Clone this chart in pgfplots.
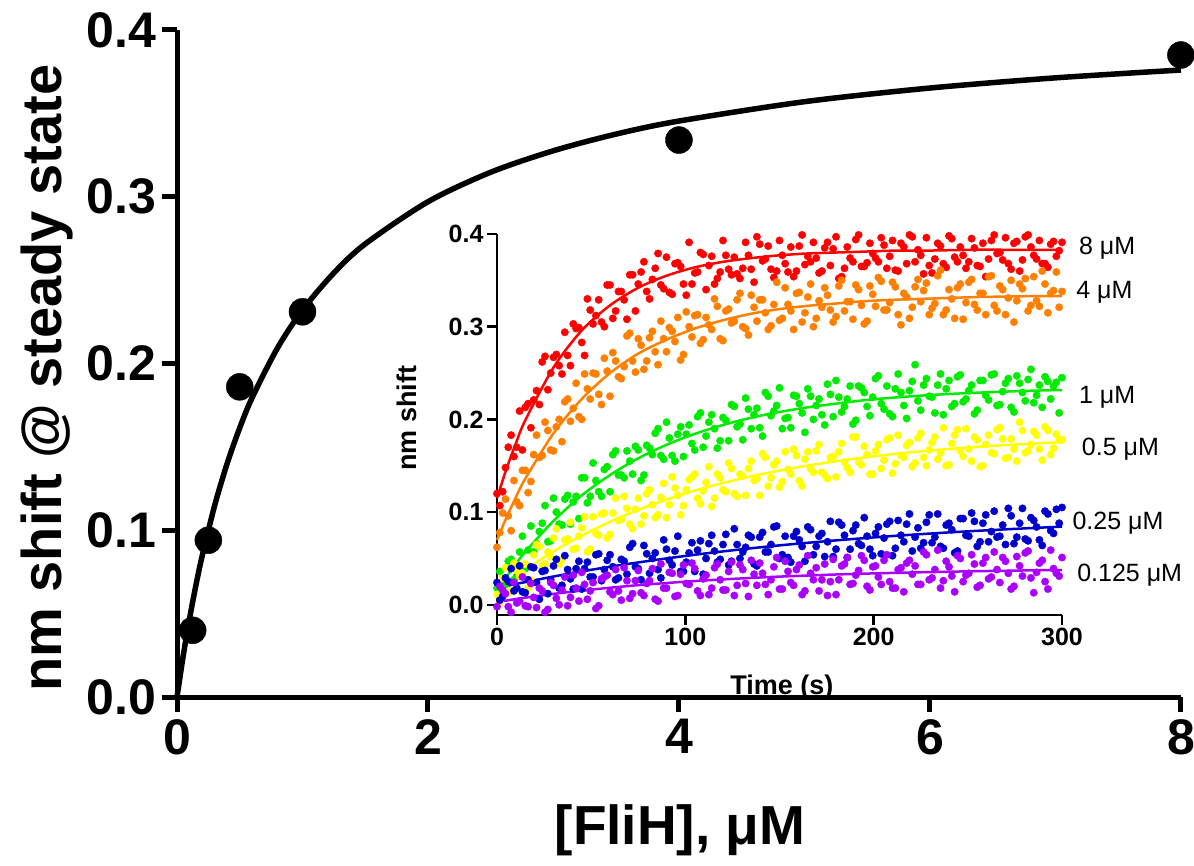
\documentclass[border=0pt]{standalone}
\usepackage{fontspec}
\setmainfont{Liberation Sans}
\usepackage{pgfplots}
\usepackage{pgfplotstable}
\pgfplotsset{compat=1.18}
\definecolor{cR}{RGB}{255,0,0}
\definecolor{cO}{RGB}{255,128,0}
\definecolor{cG}{RGB}{0,235,0}
\definecolor{cY}{RGB}{255,255,0}
\definecolor{cB}{RGB}{0,0,205}
\definecolor{cP}{RGB}{170,0,255}

\pgfplotstableread{
x y
0.125 0.040
0.25 0.094
0.5 0.186
1 0.231
4 0.334
8 0.385
}\mainpts

\pgfplotstableread{
x y
0 0
0.05 0.0249
0.1 0.0470
0.15 0.0667
0.2 0.0844
0.3 0.1148
0.4 0.1401
0.5 0.1614
0.6 0.1797
0.8 0.2092
1 0.2321
1.25 0.2543
1.5 0.2717
2 0.2970
2.5 0.3147
3 0.3276
3.5 0.3376
4 0.3454
5 0.3570
6 0.3652
7 0.3713
8 0.3760
}\mainfit

\pgfplotstableread{
t R O G Y B P
0 .115 .070 .015 .015 .018 .003
5 .1465 .094 .030 .023 .0203 .0046
10 .174 .116 .044 .031 .0225 .0062
15 .199 .136 .057 .038 .0245 .0077
30 .256 .185 .0905 .0576 .0305 .0118
45 .296 .222 .118 .0747 .036 .0153
60 .323 .250 .140 .0895 .0411 .0184
75 .342 .271 .158 .1024 .0457 .0212
90 .355 .286 .1726 .1135 .050 .0235
105 .364 .298 .1844 .1231 .054 .0256
120 .370 .307 .194 .1314 .0576 .0274
135 .374 .314 .2018 .1386 .061 .029
150 .377 .319 .208 .1448 .0641 .0304
165 .379 .3225 .213 .1502 .0669 .0316
180 .380 .325 .217 .1549 .0695 .0327
195 .381 .3275 .2207 .159 .0719 .0336
210 .382 .329 .2234 .1625 .0742 .0344
225 .382 .330 .2256 .1655 .0762 .0351
240 .3825 .331 .2274 .1681 .0781 .0357
255 .383 .332 .2288 .1704 .0798 .0363
270 .383 .3325 .230 .1723 .0814 .0367
285 .383 .333 .231 .174 .0829 .0372
300 .383 .333 .2317 .1755 .0843 .0375
}\fits

\pgfplotstableread{
t R O G Y B P
0 .120 .062 .018 .011 .024 -.002
3 .122 .099 .018 .029 .009 .016
6 .170 .096 .047 .013 .025 -.002
9 .160 .134 .027 .045 .015 .024
12 .209 .107 .057 .031 .042 .004
15 .213 .145 .039 .044 .013 -.001
18 .191 .133 .085 .027 .041 .023
21 .231 .183 .066 .065 .024 -.003
24 .262 .161 .088 .042 .036 .015
27 .232 .188 .068 .057 .012 -.005
30 .267 .166 .115 .072 .042 .021
33 .258 .200 .087 .044 .018 .000
36 .294 .219 .114 .070 .053 .030
39 .258 .198 .087 .089 .028 .008
42 .298 .239 .117 .061 .039 .018
45 .283 .200 .137 .083 .017 .035
48 .330 .233 .110 .057 .046 .006
51 .303 .250 .153 .095 .030 .024
54 .329 .227 .122 .075 .055 -.001
57 .300 .266 .146 .099 .038 .030
60 .345 .225 .122 .076 .054 .014
63 .317 .263 .166 .115 .027 .038
66 .338 .244 .140 .092 .049 .005
69 .308 .290 .166 .104 .033 .026
72 .356 .263 .141 .082 .066 .012
75 .346 .287 .167 .115 .039 .037
78 .370 .254 .140 .096 .064 .010
81 .330 .288 .169 .124 .034 .026
84 .363 .273 .185 .094 .056 .006
87 .345 .306 .161 .116 .029 .044
90 .375 .273 .197 .094 .060 .018
93 .335 .295 .161 .138 .043 .034
96 .369 .310 .184 .118 .074 .010
99 .346 .270 .160 .107 .036 .043
102 .391 .300 .194 .135 .056 .022
105 .358 .312 .167 .141 .036 .039
108 .380 .282 .207 .109 .069 .010
111 .340 .310 .182 .132 .050 .032
114 .376 .297 .205 .106 .075 .018
117 .352 .322 .169 .141 .046 .044
120 .393 .285 .202 .124 .065 .016
123 .362 .319 .177 .153 .043 .036
126 .375 .306 .214 .120 .082 .010
129 .352 .336 .195 .141 .050 .043
132 .391 .298 .223 .118 .062 .023
135 .362 .334 .190 .155 .073 .048
138 .397 .306 .212 .136 .042 .021
141 .371 .329 .182 .163 .078 .034
144 .387 .297 .225 .128 .057 .011
147 .353 .324 .209 .151 .084 .041
150 .393 .307 .234 .127 .050 .017
153 .368 .342 .201 .165 .074 .047
156 .386 .317 .191 .141 .046 .024
159 .360 .336 .225 .161 .079 .038
162 .399 .305 .207 .128 .063 .011
165 .376 .332 .233 .165 .084 .053
168 .391 .300 .200 .143 .054 .027
171 .358 .328 .222 .173 .074 .015
174 .385 .342 .194 .140 .052 .044
177 .366 .318 .227 .159 .090 .025
180 .397 .311 .242 .138 .060 .011
183 .354 .350 .208 .174 .086 .042
186 .386 .327 .222 .148 .051 .051
189 .370 .308 .195 .181 .080 .023
192 .399 .340 .236 .154 .066 .037
195 .365 .303 .229 .171 .094 .048
198 .390 .344 .204 .141 .060 .016
201 .374 .322 .244 .166 .077 .042
204 .396 .349 .217 .147 .055 .022
207 .363 .318 .236 .178 .087 .054
210 .393 .348 .203 .142 .053 .018
213 .360 .313 .249 .183 .091 .038
216 .386 .336 .215 .159 .068 .014
219 .399 .309 .231 .175 .098 .048
222 .370 .343 .259 .153 .073 .042
225 .377 .327 .210 .185 .061 .022
228 .396 .347 .244 .150 .089 .054
231 .358 .320 .224 .175 .067 .029
234 .390 .355 .237 .157 .098 .059
237 .368 .313 .205 .191 .061 .026
240 .398 .340 .242 .151 .088 .041
243 .375 .309 .217 .183 .056 .014
246 .386 .346 .248 .166 .093 .050
249 .363 .326 .222 .190 .075 .032
252 .395 .351 .237 .155 .099 .054
255 .366 .318 .210 .178 .063 .019
258 .390 .336 .242 .150 .088 .045
261 .373 .354 .221 .183 .068 .028
264 .399 .323 .249 .163 .101 .057
267 .380 .344 .216 .191 .074 .024
270 .396 .313 .239 .158 .065 .047
273 .362 .350 .213 .179 .096 .017
276 .392 .328 .247 .155 .073 .052
279 .372 .341 .229 .188 .104 .031
282 .399 .317 .243 .166 .069 .058
285 .377 .354 .218 .187 .091 .013
288 .393 .322 .237 .168 .070 .045
291 .368 .346 .246 .192 .101 .025
294 .389 .336 .222 .162 .080 .059
297 .376 .359 .240 .184 .103 .034
300 .391 .338 .245 .178 .105 .051
1.5 .107 .078 .036 .003 .005 .020
4.5 .148 .114 .022 .040 .029 .012
7.5 .183 .080 .049 .015 .039 -.008
10.5 .170 .111 .031 .037 .018 .002
13.5 .167 .145 .074 .034 .014 .030
16.5 .217 .121 .059 .018 .027 -.002
19.5 .221 .162 .057 .054 .040 .008
22.5 .216 .159 .079 .063 .006 .018
25.5 .268 .197 .107 .044 .037 -.008
28.5 .250 .167 .069 .052 .027 .024
31.5 .270 .192 .100 .082 .049 .007
34.5 .249 .176 .086 .049 .021 .016
37.5 .269 .222 .118 .071 .038 -.001
40.5 .303 .212 .111 .060 .017 .032
43.5 .299 .203 .093 .074 .047 .004
46.5 .269 .249 .137 .095 .039 .022
49.5 .318 .222 .117 .060 .030 .015
52.5 .312 .249 .134 .077 .054 -.004
55.5 .305 .216 .117 .098 .026 .028
58.5 .345 .252 .149 .072 .048 .032
61.5 .309 .272 .162 .099 .041 .011
64.5 .338 .246 .140 .091 .029 .015
67.5 .329 .257 .137 .117 .047 .040
70.5 .356 .293 .155 .087 .062 .007
73.5 .317 .251 .171 .103 .041 .026
76.5 .359 .280 .134 .087 .027 .013
79.5 .338 .263 .172 .120 .055 .023
82.5 .351 .295 .162 .108 .050 .039
85.5 .379 .259 .190 .097 .038 .004
88.5 .341 .287 .157 .131 .070 .018
91.5 .337 .299 .180 .108 .048 .035
94.5 .368 .284 .155 .126 .058 .009
97.5 .365 .264 .192 .097 .036 .033
100.5 .334 .316 .184 .124 .046 .023
103.5 .346 .289 .174 .138 .067 .045
106.5 .359 .313 .203 .115 .059 .015
109.5 .378 .286 .170 .123 .033 .028
112.5 .366 .302 .197 .149 .066 .011
115.5 .346 .330 .190 .115 .058 .040
118.5 .359 .287 .177 .137 .049 .027
121.5 .377 .317 .199 .122 .076 .016
124.5 .356 .304 .216 .147 .047 .046
127.5 .357 .329 .192 .117 .065 .021
130.5 .363 .300 .178 .139 .057 .038
133.5 .377 .291 .211 .147 .075 .009
136.5 .348 .321 .205 .134 .044 .033
139.5 .389 .329 .191 .118 .073 .045
142.5 .373 .315 .229 .159 .057 .022
145.5 .362 .301 .204 .137 .065 .027
148.5 .360 .348 .215 .155 .085 .051
151.5 .377 .309 .190 .133 .054 .017
154.5 .359 .324 .202 .146 .051 .036
157.5 .354 .297 .226 .168 .074 .021
160.5 .387 .337 .217 .134 .070 .043
163.5 .367 .315 .186 .157 .047 .015
166.5 .370 .346 .225 .147 .081 .034
169.5 .374 .309 .215 .166 .063 .040
172.5 .360 .321 .205 .143 .077 .027
175.5 .391 .334 .238 .136 .068 .010
178.5 .384 .305 .203 .160 .052 .049
181.5 .352 .344 .224 .165 .089 .027
184.5 .363 .317 .214 .154 .075 .044
187.5 .374 .327 .236 .143 .060 .022
190.5 .394 .345 .199 .181 .086 .032
193.5 .365 .323 .234 .151 .064 .053
196.5 .369 .306 .214 .162 .074 .020
199.5 .379 .335 .224 .141 .053 .041
202.5 .370 .353 .247 .173 .084 .030
205.5 .388 .318 .211 .156 .072 .048
208.5 .376 .326 .206 .180 .090 .025
211.5 .361 .343 .233 .152 .061 .018
214.5 .390 .302 .229 .161 .075 .040
217.5 .368 .332 .201 .172 .087 .045
220.5 .397 .321 .241 .149 .058 .033
223.5 .383 .351 .220 .180 .083 .022
226.5 .357 .339 .237 .159 .067 .057
229.5 .366 .313 .225 .167 .097 .027
232.5 .373 .325 .207 .181 .073 .038
235.5 .387 .361 .249 .164 .063 .018
238.5 .364 .318 .233 .150 .086 .047
241.5 .395 .330 .214 .174 .081 .031
244.5 .370 .342 .246 .189 .058 .053
247.5 .377 .308 .219 .160 .093 .025
250.5 .370 .348 .231 .168 .074 .034
253.5 .385 .324 .206 .181 .090 .044
256.5 .365 .336 .242 .149 .068 .021
259.5 .354 .313 .226 .173 .097 .051
262.5 .393 .355 .248 .164 .079 .030
265.5 .379 .317 .215 .189 .073 .038
268.5 .372 .340 .230 .179 .086 .051
271.5 .368 .331 .244 .159 .104 .034
274.5 .390 .305 .208 .168 .066 .020
277.5 .360 .346 .239 .197 .088 .042
280.5 .397 .352 .220 .164 .071 .056
283.5 .386 .323 .254 .173 .094 .029
286.5 .373 .328 .226 .183 .084 .035
289.5 .368 .360 .213 .156 .064 .048
292.5 .364 .315 .241 .188 .098 .017
295.5 .392 .339 .236 .169 .077 .039
298.5 .382 .321 .207 .178 .088 .031
}\kin

\begin{document}
\begin{tikzpicture}[x=1pt,y=1pt]
\useasboundingbox (0,0) rectangle (1194,865);
% ---------------- main axis ----------------
\begin{axis}[
  at={(177pt,168pt)}, anchor=south west,
  scale only axis, width=1004pt, height=667pt,
  xmin=0, xmax=8, ymin=0, ymax=0.4,
  axis lines=left, axis line style={line width=5pt,-},
  tick align=outside, major tick length=15pt,
  every tick/.style={line width=5pt, black},
  xtick={0,2,4,6,8}, ytick={0,0.1,0.2,0.3,0.4},
  /pgf/number format/assume math mode=true,
  yticklabel style={/pgf/number format/fixed, /pgf/number format/fixed zerofill, /pgf/number format/precision=1, xshift=-2pt},
  tick label style={font=\bfseries\fontsize{50}{50}\selectfont},
  xticklabel style={yshift=-4pt},
  xlabel={[FliH], μM},
  ylabel={nm shift @ steady state},
  xlabel style={font=\bfseries\fontsize{55}{55}\selectfont, at={(axis description cs:0.501,-0.1994)}, anchor=center},
  ylabel style={font=\bfseries\fontsize{56}{56}\selectfont, at={(axis description cs:-0.1295,0.478)}, anchor=center},
  clip=false,
]
\addplot[black, line width=5.5pt, smooth] table[x=x,y=y]{\mainfit};
\addplot[only marks, mark=*, mark size=13.5pt, black] table[x=x,y=y]{\mainpts};
\end{axis}
% ---------------- inset ----------------
\begin{axis}[
  at={(497pt,250pt)}, anchor=south west,
  scale only axis, width=565pt, height=381pt,
  xmin=0, xmax=300, ymin=-0.011, ymax=0.4,
  axis lines=left, axis line style={line width=2.5pt,-},
  tick align=outside, major tick length=10pt,
  every tick/.style={line width=2.5pt, black},
  xtick={0,100,200,300}, ytick={0,0.1,0.2,0.3,0.4},
  /pgf/number format/assume math mode=true,
  yticklabel style={/pgf/number format/fixed, /pgf/number format/fixed zerofill, /pgf/number format/precision=1},
  tick label style={font=\bfseries\fontsize{25}{25}\selectfont},
  xlabel={Time (s)}, ylabel={nm shift},
  xlabel style={font=\bfseries\fontsize{27}{27}\selectfont, at={(axis description cs:0.504,-0.1916)}, anchor=center},
  ylabel style={font=\bfseries\fontsize{27}{27}\selectfont, at={(axis description cs:-0.159,0.517)}, anchor=center},
  clip=false,
]
\addplot[only marks, mark=*, mark size=3.7pt, cR] table[x=t,y=R]{\kin};
\addplot[only marks, mark=*, mark size=3.7pt, cO] table[x=t,y=O]{\kin};
\addplot[only marks, mark=*, mark size=3.7pt, cG] table[x=t,y=G]{\kin};
\addplot[only marks, mark=*, mark size=3.7pt, cY] table[x=t,y=Y]{\kin};
\addplot[only marks, mark=*, mark size=3.7pt, cB] table[x=t,y=B]{\kin};
\addplot[only marks, mark=*, mark size=3.7pt, cP] table[x=t,y=P]{\kin};
\addplot[cR, line width=2.5pt, smooth, no markers] table[x=t,y=R]{\fits};
\addplot[cO, line width=2.5pt, smooth, no markers] table[x=t,y=O]{\fits};
\addplot[cG, line width=2.5pt, smooth, no markers] table[x=t,y=G]{\fits};
\addplot[cY, line width=2.5pt, smooth, no markers] table[x=t,y=Y]{\fits};
\addplot[cB, line width=2.5pt, smooth, no markers] table[x=t,y=B]{\fits};
\addplot[cP, line width=2.5pt, smooth, no markers] table[x=t,y=P]{\fits};
\node[anchor=west, inner sep=0pt, font=\fontsize{25}{25}\selectfont] at (axis cs:309,0.385) {8 μM};
\node[anchor=west, inner sep=0pt, font=\fontsize{25}{25}\selectfont] at (axis cs:307.5,0.337) {4 μM};
\node[anchor=west, inner sep=0pt, font=\fontsize{25}{25}\selectfont] at (axis cs:309,0.224) {1 μM};
\node[anchor=west, inner sep=0pt, font=\fontsize{25}{25}\selectfont] at (axis cs:310.5,0.168) {0.5 μM};
\node[anchor=west, inner sep=0pt, font=\fontsize{25}{25}\selectfont] at (axis cs:305.5,0.088) {0.25 μM};
\node[anchor=west, inner sep=0pt, font=\fontsize{25}{25}\selectfont] at (axis cs:308,0.032) {0.125 μM};
\end{axis}
\end{tikzpicture}
\end{document}
